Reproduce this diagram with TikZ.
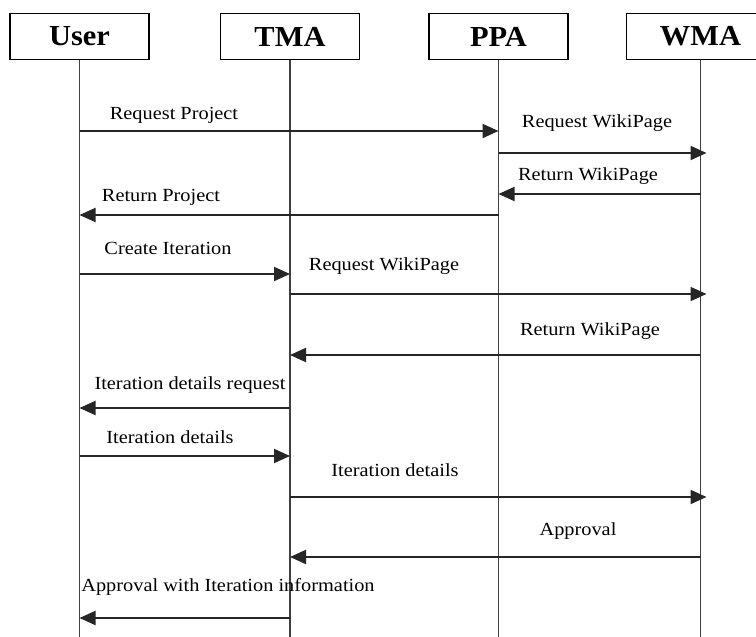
\documentclass[tikz,border=0pt]{standalone}
\usepackage{fontspec}
\setmainfont{Liberation Serif}
\newfontfamily\headfont[FakeStretch=1.05]{Liberation Serif}
\newfontfamily\msgfont[FakeStretch=1.1]{Liberation Serif}
\usetikzlibrary{arrows.meta}

\begin{document}
\begin{tikzpicture}[x=1pt,y=-1pt,
  actor/.style={draw, line width=1.4pt, minimum width=139pt, minimum height=46pt,
    inner sep=0pt, font=\headfont\fontsize{29}{29}\selectfont\bfseries},
  lifeline/.style={line width=1.3pt, black!75},
  msg/.style={line width=2pt, black!85, -{Triangle[length=16pt,width=14pt]}},
  towma/.style={msg, shorten >=-6pt},
  lbl/.style={inner sep=0pt, font=\msgfont\fontsize{18.5}{20}\selectfont}]

\clip (0,0) rectangle (756,637);
\fill[white] (0,0) rectangle (756,637);

% participants
\node[actor] (user) at (79.5,36.5) {User};
\node[actor] (tma) at (290,36.5) {TMA};
\node[actor] (ppa) at (498.5,36.5) {PPA};
\node[actor, minimum width=148pt] (wma) at (700.5,36.5) {WMA};

% lifelines
\coordinate (bottom) at (0,637);
\draw[lifeline] (user.south) -- (user.south |- bottom);
\draw[lifeline] (tma.south) -- (tma.south |- bottom);
\draw[lifeline] (ppa.south) -- (ppa.south |- bottom);
\draw[lifeline] (wma.south) -- (wma.south |- bottom);

% messages
\draw[msg]   (user |- 0,131) -- (ppa |- 0,131);
\draw[towma] (ppa |- 0,153) -- (wma |- 0,153);
\draw[msg]   (wma |- 0,194) -- (ppa |- 0,194);
\draw[msg]   (ppa |- 0,215) -- (user |- 0,215);
\draw[msg]   (user |- 0,274) -- (tma |- 0,274);
\draw[towma] (tma |- 0,294) -- (wma |- 0,294);
\draw[msg]   (wma |- 0,355) -- (tma |- 0,355);
\draw[msg]   (tma |- 0,408) -- (user |- 0,408);
\draw[msg]   (user |- 0,456) -- (tma |- 0,456);
\draw[towma] (tma |- 0,497) -- (wma |- 0,497);
\draw[msg]   (wma |- 0,557) -- (tma |- 0,557);
\draw[msg]   (tma |- 0,618) -- (user |- 0,618);

% message labels
\node[lbl] (m1)  at (174,115) {Request Project};
\node[lbl] (m2)  at (597,123) {Request WikiPage};
\node[lbl] (m3)  at (588,176) {Return WikiPage};
\node[lbl] (m4)  at (161,197) {Return Project};
\node[lbl] (m5)  at (168,248) {Create Iteration};
\node[lbl] (m6)  at (384,266) {Request WikiPage};
\node[lbl] (m7)  at (590,331) {Return WikiPage};
\node[lbl] (m8)  at (190,385) {Iteration details request};
\node[lbl] (m9)  at (170,437) {Iteration details};
\node[lbl] (m10) at (395,470) {Iteration details};
\node[lbl] (m11) at (578,531) {Approval};
\node[lbl] (m12) at (228,587) {Approval with Iteration information};
\end{tikzpicture}
\end{document}
